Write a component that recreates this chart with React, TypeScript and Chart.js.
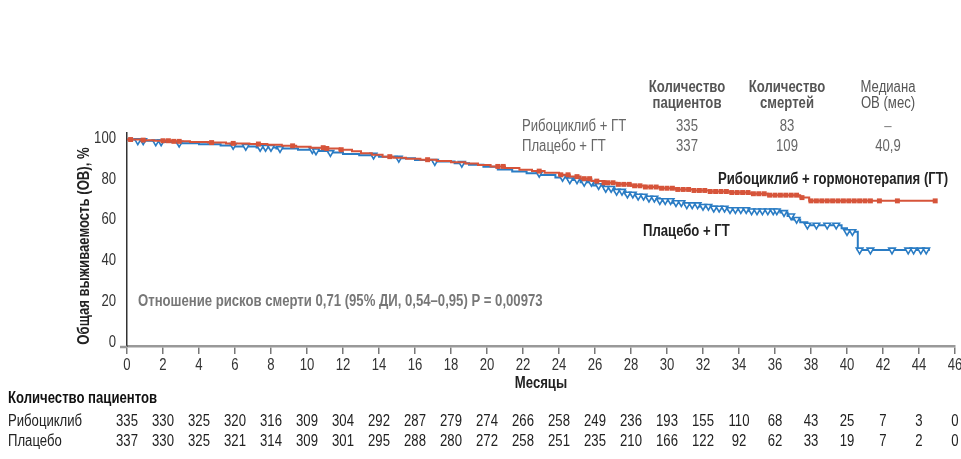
import React, { useEffect, useRef } from 'react';
import { Chart, registerables } from 'chart.js';

Chart.register(...registerables);

// ---- data ----
const riskMonths = [0, 2, 4, 6, 8, 10, 12, 14, 16, 18, 20, 22, 24, 26, 28, 30, 32, 34, 36, 38, 40, 42, 44, 46];
const riskRibo = [335, 330, 325, 320, 316, 309, 304, 292, 287, 279, 274, 266, 258, 249, 236, 193, 155, 110, 68, 43, 25, 7, 3, 0];
const riskPlac = [337, 330, 325, 321, 314, 309, 301, 295, 288, 280, 272, 258, 251, 235, 210, 166, 122, 92, 62, 33, 19, 7, 2, 0];

const riboTimes = [0, 0.8, 1.5, 2.5, 3.5, 4.5, 5.5, 6.8, 7.8, 8.6, 9.4, 10.2, 11.0, 11.8, 12.5, 13.0, 13.6, 14.2, 14.8, 15.5, 16.3, 17.2, 18.0, 18.8, 19.5, 20.2, 21.0, 21.8, 22.5, 23.2, 24.0, 24.6, 25.2, 25.8, 26.5, 27.2, 28.0, 28.8, 29.6, 30.5, 31.5, 32.4, 33.5, 34.6, 35.6, 37.4, 37.9, 44.9];
const riboSurv = [100, 99.7, 99.4, 99.1, 98.8, 98.5, 98.1, 97.8, 97.4, 96.9, 96.5, 96.0, 95.6, 95.0, 94.2, 93.3, 92.5, 91.6, 91.0, 90.6, 90.1, 89.5, 88.8, 88.2, 87.5, 86.8, 86.0, 85.2, 84.5, 83.7, 82.7, 81.8, 80.8, 79.6, 78.8, 78.0, 77.3, 76.7, 76.1, 75.5, 75.0, 74.5, 74.0, 73.4, 72.7, 71.5, 69.9, 69.9];

const placTimes = [0, 0.6, 1.6, 2.8, 4.0, 5.2, 6.0, 7.2, 8.3, 9.5, 10.4, 11.2, 12.0, 12.9, 14.0, 15.0, 16.0, 17.0, 18.2, 19.0, 19.8, 20.6, 21.4, 22.2, 23.0, 23.8, 24.5, 25.2, 25.9, 26.5, 27.1, 27.7, 28.3, 28.9, 29.6, 30.3, 31.0, 31.8, 32.6, 33.4, 34.5, 36.3, 36.7, 37.0, 37.4, 37.8, 39.7, 40.0, 40.6, 44.6];
const placSurv = [100, 99.4, 98.8, 98.2, 97.7, 97.1, 96.6, 96.1, 95.6, 95.0, 94.4, 93.6, 92.9, 92.3, 91.6, 90.8, 90.0, 89.2, 88.3, 87.6, 86.6, 85.3, 84.3, 83.4, 82.6, 81.4, 80.2, 79.0, 77.4, 76.0, 74.6, 73.2, 72.2, 71.2, 70.0, 69.0, 68.0, 67.2, 66.3, 65.6, 65.0, 64.2, 62.5, 60.8, 59.4, 58.0, 56.5, 54.8, 45.8, 45.8];

const riboCensor = [0.2, 0.9, 2.0, 2.3, 2.6, 2.9, 4.7, 5.9, 7.3, 9.2, 10.9, 11.1, 11.9, 14.6, 16.7, 20.6, 20.9, 22.9, 24.1, 24.5, 25.0, 25.4, 25.7, 26.1, 26.5, 26.7, 27.0, 27.3, 27.6, 27.9, 28.2, 28.5, 28.8, 29.1, 29.4, 29.7, 30.0, 30.3, 30.6, 30.9, 31.2, 31.5, 31.8, 32.1, 32.4, 32.7, 33.0, 33.3, 33.6, 33.9, 34.2, 34.5, 34.8, 35.1, 35.4, 35.7, 36.0, 36.3, 36.6, 36.9, 37.2, 37.5, 38.0, 38.3, 38.6, 38.9, 39.2, 39.5, 39.8, 40.1, 40.4, 40.7, 41.0, 41.3, 41.8, 42.8, 44.9];
const placCensor = [0.6, 0.9, 1.6, 1.9, 2.9, 5.9, 6.6, 7.4, 7.7, 8.0, 8.5, 10.3, 10.5, 11.3, 13.7, 15.1, 17.1, 18.6, 22.9, 24.2, 24.6, 25.0, 25.4, 25.8, 26.2, 26.6, 26.9, 27.2, 27.5, 27.8, 28.1, 28.4, 28.7, 29.0, 29.3, 29.6, 29.9, 30.2, 30.5, 30.8, 31.1, 31.4, 31.7, 32.0, 32.3, 32.6, 32.9, 33.2, 33.5, 33.8, 34.1, 34.4, 34.7, 35.0, 35.3, 35.6, 35.9, 36.1, 36.5, 36.9, 37.2, 37.8, 38.3, 38.9, 39.4, 40.0, 40.3, 40.7, 41.3, 42.5, 43.4, 43.7, 44.1, 44.4];

const yTickValues = [0, 20, 40, 60, 80, 100];

const RED = '#d6543a';
const BLUE = '#2a7cc4';
const FONT = "'Liberation Sans', Arial, sans-serif";
const SX = 0.82; // condensed look

function survAt(times: number[], surv: number[], t: number) {
  let v = surv[0];
  for (let i = 0; i < times.length; i++) {
    if (times[i] <= t) v = surv[i];
  }
  return v;
}

function txt(ctx: CanvasRenderingContext2D, s: string, x: number, y: number, size: number, bold: boolean, color: string, align: CanvasTextAlign = 'left', rot = 0) {
  ctx.save();
  ctx.font = `${bold ? 'bold ' : ''}${size}px ${FONT}`;
  ctx.fillStyle = color;
  ctx.textAlign = align;
  ctx.textBaseline = 'middle';
  ctx.translate(x, y);
  if (rot) ctx.rotate(rot);
  ctx.scale(SX, 1);
  ctx.fillText(s, 0, 0);
  ctx.restore();
}

const textPlugin = {
  id: 'textPlugin',
  afterDraw(chart: any) {
    const ctx: CanvasRenderingContext2D = chart.ctx;
    const xs = chart.scales.x;
    const ys = chart.scales.y;
    const area = chart.chartArea;
    // x axis line continues a little left of the y axis
    ctx.save();
    ctx.strokeStyle = '#999';
    ctx.lineWidth = 2.5;
    ctx.beginPath();
    ctx.moveTo(120, area.bottom + 1);
    ctx.lineTo(area.left, area.bottom + 1);
    ctx.stroke();
    ctx.restore();

    // tick labels
    xs.ticks.forEach((t: any) => txt(ctx, String(t.value), xs.getPixelForValue(t.value), 366, 16, false, '#333', 'center'));
    ys.ticks.forEach((t: any) => txt(ctx, String(t.value), 116, ys.getPixelForValue(t.value) - 1, 16, false, '#333', 'right'));

    // axis titles
    txt(ctx, 'Общая выживаемость (ОВ), %', 85, 246, 16, true, '#222', 'center', -Math.PI / 2);
    txt(ctx, 'Месяцы', (area.left + area.right) / 2, 384, 16, true, '#222', 'center');

    // top table
    const c1 = 687, c2 = 787, c3 = 888;
    txt(ctx, 'Количество', c1, 88, 16, true, '#555', 'center');
    txt(ctx, 'пациентов', c1, 104, 16, true, '#555', 'center');
    txt(ctx, 'Количество', c2, 88, 16, true, '#555', 'center');
    txt(ctx, 'смертей', c2, 104, 16, true, '#555', 'center');
    txt(ctx, 'Медиана', c3, 88, 16, false, '#555', 'center');
    txt(ctx, 'ОВ (мес)', c3, 104, 16, false, '#555', 'center');
    txt(ctx, 'Рибоциклиб + ГТ', 522, 127, 16, false, '#666');
    txt(ctx, 'Плацебо + ГТ', 522, 147, 16, false, '#666');
    txt(ctx, '335', c1, 127, 16, false, '#666', 'center');
    txt(ctx, '83', c2, 127, 16, false, '#666', 'center');
    txt(ctx, '–', c3, 127, 16, false, '#888', 'center');
    txt(ctx, '337', c1, 147, 16, false, '#666', 'center');
    txt(ctx, '109', c2, 147, 16, false, '#666', 'center');
    txt(ctx, '40,9', c3, 147, 16, false, '#666', 'center');

    // curve labels
    txt(ctx, 'Рибоциклиб + гормонотерапия (ГТ)', 718, 180, 16, true, '#222');
    txt(ctx, 'Плацебо + ГТ', 643, 232, 16, true, '#222');

    // annotation
    txt(ctx, 'Отношение рисков смерти 0,71 (95% ДИ, 0,54–0,95) P = 0,00973', 138, 302, 16, true, '#777');

    // number at risk
    txt(ctx, 'Количество пациентов', 8, 399, 16, true, '#111');
    txt(ctx, 'Рибоциклиб', 8, 422, 16, false, '#222');
    txt(ctx, 'Плацебо', 8, 442, 16, false, '#222');
    riskMonths.forEach((m, i) => {
      const px = xs.getPixelForValue(m);
      txt(ctx, String(riskRibo[i]), px, 422, 16, false, '#222', 'center');
      txt(ctx, String(riskPlac[i]), px, 442, 16, false, '#222', 'center');
    });
  },
};

export default function App() {
  const ref = useRef<HTMLCanvasElement | null>(null);
  useEffect(() => {
    if (!ref.current) return;
    const riboLine = riboTimes.map((t, i) => ({ x: t, y: riboSurv[i] }));
    const placLine = placTimes.map((t, i) => ({ x: t, y: placSurv[i] }));
    const riboMarks = riboCensor.map((t) => ({ x: t, y: survAt(riboTimes, riboSurv, t) }));
    const placMarks = placCensor.map((t) => ({ x: t, y: survAt(placTimes, placSurv, t) }));
    const chart = new Chart(ref.current, {
      type: 'scatter',
      data: {
        datasets: [
          { label: 'ribo censor', data: riboMarks, showLine: false, pointStyle: 'rect', pointRadius: 3.5, backgroundColor: RED, borderColor: RED, borderWidth: 0 },
          { label: 'ribo', data: riboLine, showLine: true, stepped: true, borderColor: RED, borderWidth: 2, pointRadius: 0, fill: false },
          { label: 'plac censor', data: placMarks, showLine: false, pointStyle: 'triangle', rotation: 180, pointRadius: 3.8, backgroundColor: '#ffffff', borderColor: BLUE, borderWidth: 1.6 },
          { label: 'plac', data: placLine, showLine: true, stepped: true, borderColor: BLUE, borderWidth: 2, pointRadius: 0, fill: false },
        ],
      },
      options: {
        responsive: false,
        animation: false,
        devicePixelRatio: 1,
        layout: { padding: { top: 133, right: 6, left: 0, bottom: 0 } },
        plugins: { legend: { display: false }, tooltip: { enabled: false } },
        scales: {
          x: {
            type: 'linear',
            min: 0,
            max: 46,
            ticks: { stepSize: 2, display: false, autoSkip: false },
            grid: { display: true, drawOnChartArea: false, drawTicks: true, tickLength: 8, color: '#777', lineWidth: 1.5 },
            border: { display: true, color: '#999', width: 2.5 },
            afterFit: (s: any) => { s.height = 113; s.paddingLeft = 0; s.paddingRight = 0; },
          },
          y: {
            type: 'linear',
            min: -1.3,
            max: 103.2,
            afterBuildTicks: (s: any) => { s.ticks = yTickValues.map((v) => ({ value: v })); },
            ticks: { display: false },
            grid: { display: false },
            border: { display: true, color: '#333', width: 1.5 },
            afterFit: (s: any) => { s.width = 127; s.paddingTop = 0; s.paddingBottom = 0; },
          },
        },
      },
      plugins: [textPlugin],
    } as any);
    return () => chart.destroy();
  }, []);
  return (
    <div style={{ position: 'absolute', left: 0, top: 0, width: 961, height: 459, background: '#fff' }}>
      <canvas ref={ref} width={961} height={459} style={{ width: 961, height: 459, display: 'block' }} />
    </div>
  );
}
